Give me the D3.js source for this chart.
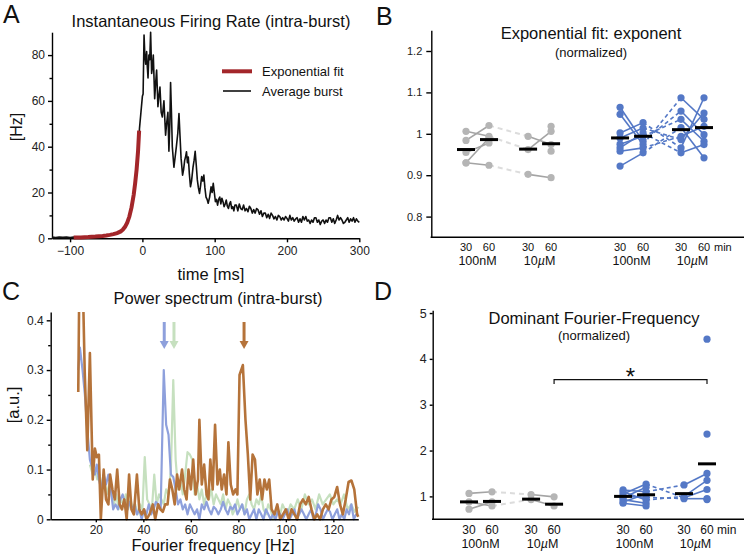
<!DOCTYPE html>
<html>
<head>
<meta charset="utf-8">
<script src="https://cdn.jsdelivr.net/npm/d3@7"></script>
<style>
  body { margin: 0; background: #fff; }
  svg { display: block; font-family: "Liberation Sans", Arial, Helvetica, sans-serif; }
  .axis path, .axis line { stroke: #000; stroke-width: 1.4; }
  .axis text { font-family: "Liberation Sans", Arial, Helvetica, sans-serif; font-size: 12px; fill: #222; }
</style>
</head>
<body>
<svg id="fig" width="744" height="554"></svg>
<script>
// ---- data: panel A (time ms, rate Hz)
var timeTicks = [-100, 0, 100, 200, 300];
var rateTicks = [0, 20, 40, 60, 80];
var avgBurst = [[-125,0.5],[-120,0.3],[-115,0.6],[-110,0.4],[-105,0.5],[-100,0.3],[-95,0.5],[-90,0.4],[-80,0.6],[-70,0.7],
  [-60,0.9],[-50,1.2],[-40,1.8],[-30,3],[-24,5],[-18,9.5],[-12,19],[-8,30],[-5,42],[-4,48],[-2,55],[0,62],[1,63],
  [2.3,88.8],[3.4,80],[4.6,76],[5.9,81.5],[6.8,75],[7.8,70],[9,80],[10.2,78],[11.4,90],[12.8,72],[14,75],[15.1,80],
  [17,61],[18.4,68],[19.7,73.5],[21.5,57.5],[22.8,62],[24.3,66],[26,55],[27.6,53],[29.8,60],[32.1,45],[33.5,50],
  [35.3,55],[36.7,38],[38,50],[39,68],[40.2,55],[41.4,40],[43.6,31],[45.5,36],[47,40],[49,46],[50.6,54.5],[52,45],
  [53.5,35],[55.6,27.6],[57,30],[58.5,34],[60,36],[61,37.8],[62.3,33],[63.5,35.5],[65,28],[66.5,22.5],[68,25],[70,31],
  [71.5,34],[73,38],[74.5,32],[76,25.5],[77.5,22],[79,19.6],[80.5,23],[82,27],[83.5,25],[85,27.6],[86.5,22],[88,18],
  [89.5,17],[91,15.3],[93,18],[95,22.5],[96.5,20],[98,24],[99.5,20],[101,16],[102.5,17],[104,14.5],[105.5,17],[107,18],
  [108.5,15],[110,17.5],[111.5,16],[113,13.8],[114.5,15],[116,16.7],[117.5,14],[119,13],[120.5,15],[122,16],[123.5,13],
  [125,13.8],[126.5,12],[128,14.5],[130,14.5],[132,12],[134,15],[136,13],[138,12.5],[140,14.5],[142,12],[144,13],
  [146,11.6],[148,14],[150,13],[152,11],[154,12.5],[156,11],[158,13],[160,12.4],[162,10.5],[164,12],[166,9.5],[168,11],
  [170,11],[172,9],[174,10.5],[176,8.7],[178,11],[180,10],[182,8.5],[184,9.5],[186,8],[188,10],[190,9.5],[192,8],
  [194,9],[196,8],[198,9.5],[200,8.7],[202,7.5],[204,10],[206,8],[208,9],[210,7.5],[212,8.5],[214,9],[216,7],[218,8.5],
  [220,7],[222,9.5],[224,8],[226,9.5],[228,7.5],[230,8],[232,6.5],[234,8],[236,7],[238,9],[240,9],[242,7],[244,8],
  [246,6],[248,7.5],[250,8],[252,6.5],[254,8],[256,7],[258,9],[260,9],[262,7],[264,8.5],[266,6.5],[268,8],[270,10],
  [272,8],[274,9],[276,8],[278,6.5],[280,7],[282,8],[284,9],[286,7],[288,8.5],[290,7.5],[292,9],[294,7],[296,8.5],
  [298,7.5],[300,7]];
var expFit = [[-95,0.3],[-90,0.35],[-85,0.4],[-80,0.5],[-75,0.55],[-70,0.65],[-65,0.75],[-60,0.9],[-55,1.05],[-50,1.25],
  [-45,1.5],[-40,1.8],[-35,2.3],[-30,3.0],[-27,3.8],[-24,5.0],[-21,6.8],[-18,9.5],[-15,13.5],[-12,19],[-10,24],[-8,30],
  [-6,38],[-4.5,47]];

// ---- data: panel C (frequency Hz, power a.u.)
var freqTicks = [20, 40, 60, 80, 100, 120];
var powerTicks = [0, 0.1, 0.2, 0.3, 0.4];
var specGreen = [[17.5,0.11],[18.7,0.09],[19.6,0.10],[20.6,0.08],[21.6,0.09],[22.6,0.06],[23.6,0.08],[24.6,0.05],[25.6,0.07],
  [26.6,0.05],[27.6,0.03],[28.6,0.05],[29.6,0.02],[30.6,0.04],[31.6,0.03],[32.6,0.05],[33.6,0.02],[34.6,0.04],[35.6,0.02],
  [36.6,0.03],[37.6,0.01],[38.6,0.03],[39.6,0.02],[40.6,0.125],[41.6,0.04],[42.6,0.03],[43.6,0.02],[44.6,0.09],[45.6,0.03],
  [46.6,0.05],[47.6,0.04],[48.6,0.03],[49.6,0.06],[50.6,0.05],[51.6,0.10],[52.6,0.28],[53.6,0.12],[54.6,0.06],[55.6,0.08],
  [56.6,0.05],[57.6,0.09],[58.6,0.135],[59.6,0.13],[60.6,0.12],[61.6,0.05],[62.6,0.07],[63.6,0.04],[64.6,0.06],[65.6,0.03],
  [66.6,0.05],[67.6,0.04],[68.6,0.06],[69.6,0.03],[70.6,0.05],[71.6,0.04],[72.6,0.03],[73.6,0.05],[74.6,0.02],[75.6,0.04],
  [76.6,0.03],[77.6,0.01],[78.6,0.02],[79.6,0.04],[80.6,0.02],[81.6,0.03],[82.6,0.01],[83.6,0.04],[84.6,0.05],[85.6,0.03],
  [86.6,0.02],[87.6,0.04],[88.6,0.03],[89.6,0.05],[90.6,0.02],[91.6,0.01],[92.6,0.03],[93.6,0.02],[94.6,0.0],[95.6,0.01],
  [96.6,0.02],[97.6,0.01],[98.6,0.03],[99.6,0.02],[100.6,0.01],[102,0.03],[103.5,0.02],[105,0.04],[106.5,0.02],[108,0.05],
  [109.5,0.03],[111,0.04],[112.5,0.02],[114,0.05],[115.5,0.03],[117,0.04],[118.5,0.05],[120,0.03],[121.5,0.04],[123,0.03],
  [124.5,0.05],[126,0.02],[127.5,0.03],[129,0.015],[130.5,0.025]];
var specBlue = [[12.6,0.30],[13.3,0.345],[14.4,0.30],[15.4,0.25],[16.4,0.18],[17.5,0.12],[18.7,0.10],[19.6,0.09],[20.4,0.11],
  [21.3,0.08],[22.3,0.06],[23.3,0.09],[24.3,0.07],[25.3,0.09],[26.3,0.06],[27.3,0.02],[28.3,0.03],[29.3,0.02],[30.3,0.04],
  [31.3,0.05],[32.3,0.03],[33.3,0.02],[34.3,0.035],[35.3,0.02],[36.3,0.03],[37.3,0.01],[38.3,0.02],[39.3,0.0],[40.3,0.02],
  [41.3,0.01],[42.3,0.03],[43.3,0.01],[44.3,0.02],[45.3,0.035],[46.3,0.03],[47.3,0.02],[48.6,0.30],[49.6,0.19],[50.6,0.17],
  [51.6,0.09],[52.6,0.085],[53.6,0.06],[54.6,0.03],[55.6,0.04],[56.6,0.02],[57.6,0.03],[58.6,0.01],[59.6,0.03],[60.6,0.02],
  [61.6,0.01],[62.6,0.02],[63.6,0.0],[64.6,0.03],[65.6,0.02],[66.6,0.035],[67.6,0.02],[68.6,0.01],[69.6,0.025],[70.6,0.02],
  [71.6,0.01],[72.6,0.02],[73.6,0.035],[74.6,0.02],[75.6,0.01],[76.6,0.025],[77.6,0.02],[78.6,0.03],[79.6,0.01],[80.6,0.02],
  [81.6,0.03],[82.6,0.01],[83.6,0.02],[84.6,0.0],[85.6,0.01],[86.6,0.02],[87.6,0.0],[88.6,0.02],[89.6,0.01],[90.6,0.0],
  [91.6,0.02],[92.6,0.01],[93.6,0.0],[94.6,0.01],[95.6,0.0],[96.6,0.015],[97.6,0.01],[98.6,0.0],[99.6,0.01],[100.6,0.02],
  [101.6,0.0],[102.6,0.01],[103.6,0.02],[104.6,0.0],[105.6,0.01],[106.6,0.02],[107.6,0.01],[108.6,0.0],[109.6,0.01],
  [110.6,0.02],[111.6,0.0],[112.6,0.01],[113.6,0.03],[114.6,0.02],[115.6,0.0],[116.6,0.01],[117.6,0.02],[118.6,0.015],
  [119.6,0.0],[120.6,0.01],[121.6,0.02],[122.6,0.0],[123.6,0.01],[124.6,0.0],[125.6,0.02],[126.6,0.01],[127.6,0.03],
  [128.6,0.0],[129.6,0.01],[130.5,0.01]];
var specBrown = [[12.6,0.256],[13.2,0.55],[14.2,0.55],[15.3,0.30],[16.4,0.139],[17.5,0.334],[18.7,0.08],[19.6,0.142],
  [20.4,0.125],[21.3,0.13],[22.1,0.0],[23.3,0.10],[24.3,0.04],[25.3,0.03],[26.0,0.09],[27.0,0.06],[28.0,0.04],[29.0,0.10],
  [30.0,0.03],[31.0,0.02],[32.0,0.04],[33.0,0.0],[34.0,0.09],[35.0,0.02],[36.0,0.01],[37.3,0.09],[38.3,0.02],[39.3,0.01],
  [40.3,0.02],[41.3,0.0],[42.6,0.01],[44.0,0.03],[45.0,0.0],[46.2,0.03],[47.2,0.02],[48.2,0.015],[49.2,0.03],[50.2,0.03],
  [51.2,0.08],[52.2,0.06],[53.2,0.03],[54.2,0.09],[55.1,0.06],[56.3,0.10],[57.2,0.06],[58.2,0.04],[59.0,0.10],[60.0,0.06],
  [61.0,0.12],[62.0,0.05],[63.0,0.08],[63.6,0.20],[64.6,0.07],[65.6,0.11],[66.6,0.05],[67.4,0.04],[68.2,0.12],[69.2,0.06],
  [70.2,0.19],[71.2,0.07],[72.2,0.10],[73.0,0.06],[74.0,0.09],[75.0,0.05],[75.8,0.155],[76.8,0.07],[77.8,0.05],[78.8,0.06],
  [79.6,0.05],[80.5,0.29],[81.9,0.31],[83.0,0.20],[84.0,0.13],[85.0,0.04],[86.0,0.13],[87.0,0.12],[88.0,0.05],[89.0,0.08],
  [90.0,0.04],[91.0,0.08],[92.0,0.06],[93.0,0.08],[94.0,0.02],[95.2,0.01],[96.4,0.03],[97.6,0.0],[98.8,0.01],[100,0.02],
  [101.2,0.0],[102.4,0.02],[103.6,0.01],[104.8,0.0],[106.0,0.03],[107.2,0.04],[108.4,0.03],[109.6,0.045],[110.8,0.02],
  [112.0,0.0],[113.2,0.01],[114.4,0.0],[115.6,0.02],[116.8,0.03],[118.0,0.02],[119.2,0.04],[120.4,0.045],[121.6,0.065],
  [122.8,0.03],[124.0,0.01],[125.2,0.04],[126.4,0.075],[127.6,0.078],[128.8,0.06],[130.0,0.01],[130.5,0.005]];
var peakFreqs = [48.8, 52.9, 82.4];   // arrows: blue, green, brown

// ---- data: panels B and D, one row per culture: [100nM 30, 100nM 60, 10uM 30, 10uM 60]
var timeLabels = ["30", "60", "30", "60", "30", "60", "30", "60"];
var doseLabels = ["100nM", "10µM", "100nM", "10µM"];
var expTicks = [0.8, 0.9, 1, 1.1, 1.2];
var expGrey = [[1.006, 0.994, 0.962, 1.006], [0.984, 1.020, 0.994, 0.974], [0.955, 0.978, null, null],
  [0.930, 0.990, null, 1.018], [0.930, 0.924, 0.902, 0.894], [null, null, null, 0.958]];
var expGreyMean = [0.962, 0.986, 0.963, 0.976];
var expBlue = [[1.064, 0.982, 1.055, 0.998], [1.047, 0.974, 1.087, 1.035], [1.002, 1.027, 0.966, 1.087],
  [0.990, 1.014, 0.986, 1.050], [0.975, 0.994, 1.035, 0.982], [0.966, 1.002, 0.954, 0.974],
  [0.958, 0.966, 0.994, 1.018], [0.922, 0.954, 1.015, 0.942]];
var expBlueMean = [0.990, 0.994, 1.010, 1.015];
var freqNormTicks = [1, 2, 3, 4, 5];
var fqGrey = [[1.065, 1.10, 1.04, 0.99], [0.72, 0.88, null, null], [0.88, 0.79, 0.93, 0.79]];
var fqGreyMean = [0.88, 0.89, 0.94, 0.83];
var fqBlue = [[1.14, 1.10, 1.25, 1.50], [1.10, 0.92, 1.00, 1.35], [1.05, 1.27, 0.97, 1.15], [1.00, 0.98, 0.95, 0.95],
  [0.97, 1.20, null, null], [0.93, 0.85, null, null], [0.88, 1.05, null, null], [0.85, 0.79, null, null],
  [null, null, null, 4.43], [null, null, null, 2.36], [null, null, null, 0.93]];
var fqBlueMean = [1.0, 1.035, 1.06, 1.71];

var FONT_T = 16.5;
var svg = d3.select("#fig");

function letter(t, x, y) {
  svg.append("text").attr("x", x).attr("y", y).attr("font-size", 25).attr("fill", "#111").text(t);
}
function label(t, x, y, size, rot) {
  var el = svg.append("text").attr("text-anchor", "middle").attr("font-size", size).attr("fill", "#111").text(t);
  if (rot) el.attr("transform", "translate(" + x + "," + y + ") rotate(-90)");
  else el.attr("x", x).attr("y", y);
  return el;
}

// ================= Panel A =================
var xA = d3.scaleLinear().domain([-125, 300]).range([52, 359.3]);
var yA = d3.scaleLinear().domain([0, 90]).range([238.3, 32.2]);

svg.append("g").attr("class", "axis").attr("transform", "translate(0,238.3)")
  .call(d3.axisBottom(xA).tickValues(timeTicks).tickSize(4).tickSizeOuter(0).tickPadding(4));
svg.append("g").attr("class", "axis").attr("transform", "translate(52,0)")
  .call(d3.axisLeft(yA).tickValues(rateTicks).tickSize(4).tickSizeOuter(0));
svg.append("g").attr("class", "axis").attr("transform", "translate(52,0)")
  .call(d3.axisLeft(yA).tickValues([10, 30, 50, 70]).tickSize(2.5).tickFormat(""))
  .call(function (g) { g.select(".domain").remove(); });

var lineA = d3.line().x(function (d) { return xA(d[0]); }).y(function (d) { return yA(d[1]); });
svg.append("path").datum(avgBurst).attr("d", lineA)
  .attr("fill", "none").attr("stroke", "#111").attr("stroke-width", 1.6).attr("stroke-linejoin", "round");
svg.append("path").datum(expFit).attr("d", lineA)
  .attr("fill", "none").attr("stroke", "#a3262a").attr("stroke-width", 4);

// legend
svg.append("line").attr("x1", 222).attr("x2", 252).attr("y1", 71.3).attr("y2", 71.3)
  .attr("stroke", "#a3262a").attr("stroke-width", 4);
svg.append("line").attr("x1", 223).attr("x2", 251).attr("y1", 91).attr("y2", 91)
  .attr("stroke", "#111").attr("stroke-width", 1.6);
svg.append("text").attr("x", 262).attr("y", 75.5).attr("font-size", 13).attr("fill", "#111").text("Exponential fit");
svg.append("text").attr("x", 262).attr("y", 95.5).attr("font-size", 13).attr("fill", "#111").text("Average burst");

label("Instantaneous Firing Rate (intra-burst)", 211, 27, FONT_T);
label("time [ms]", 211, 280, FONT_T);
label("[Hz]", 22, 127, 16, true);
letter("A", 3, 23);

// ================= Panel C =================
var xC = d3.scaleLinear().domain([1, 130.5]).range([50.7, 358.3]);
var yC = d3.scaleLinear().domain([0, 0.4167]).range([519.3, 312]);

svg.append("clipPath").attr("id", "clipC").append("rect")
  .attr("x", 50.7).attr("y", 312).attr("width", 310).attr("height", 210);

var lineC = d3.line().x(function (d) { return xC(d[0]); }).y(function (d) { return yC(d[1]); });
var gC = svg.append("g").attr("clip-path", "url(#clipC)");
[[specGreen, "#c6e0bf", 2.2], [specBlue, "#8ea0dc", 2.2], [specBrown, "#b5733a", 2.6]].forEach(function (s) {
  gC.append("path").datum(s[0]).attr("d", lineC)
    .attr("fill", "none").attr("stroke", s[1]).attr("stroke-width", s[2]).attr("stroke-linejoin", "round");
});

svg.append("g").attr("class", "axis").attr("transform", "translate(0,519.3)")
  .call(d3.axisBottom(xC).tickValues(freqTicks).tickSize(3).tickSizeOuter(0).tickPadding(3));
svg.append("g").attr("class", "axis").attr("transform", "translate(50.7,0)")
  .call(d3.axisLeft(yC).tickValues(powerTicks).tickSize(4).tickSizeOuter(0)
    .tickFormat(function (d) { return d === 0 ? "0" : d3.format(".1f")(d); }));
svg.append("g").attr("class", "axis").attr("transform", "translate(50.7,0)")
  .call(d3.axisLeft(yC).tickValues([0.05, 0.15, 0.25, 0.35]).tickSize(2.5).tickFormat(""))
  .call(function (g) { g.select(".domain").remove(); });

// peak arrows
var arrowCols = ["#8ea0dc", "#c6e0bf", "#b5733a"];
peakFreqs.forEach(function (f, i) {
  var x = xC(f);
  svg.append("line").attr("x1", x).attr("x2", x).attr("y1", 322).attr("y2", 342)
    .attr("stroke", arrowCols[i]).attr("stroke-width", 3);
  svg.append("path").attr("d", "M" + (x - 4.5) + ",341L" + (x + 4.5) + ",341L" + x + ",349Z")
    .attr("fill", arrowCols[i]);
});

label("Power spectrum (intra-burst)", 218, 304, FONT_T);
label("Fourier frequency [Hz]", 213, 551, FONT_T);
label("[a.u.]", 19, 405, 16.5, true);
letter("C", 2, 300);

// ================= Panels B and D =================
function pairedPanel(o) {
  var x = d3.scaleLinear().domain([0, 10.35]).range(o.xRange);
  var y = d3.scaleLinear().domain(o.yDomain).range(o.yRange);
  var g = svg.append("g");

  g.append("g").attr("class", "axis").attr("transform", "translate(" + o.x0 + ",0)")
    .call(d3.axisLeft(y).tickValues(o.ticks).tickSize(o.tick).tickSizeOuter(0).tickPadding(o.pad)
      .tickFormat(o.fmt))
    .selectAll("text").style("font-size", o.tickFont + "px");
  g.append("line").attr("x1", o.x0 - 0.7).attr("x2", 744).attr("y1", o.yRange[0]).attr("y2", o.yRange[0])
    .attr("stroke", "#000").attr("stroke-width", 1.4);

  o.groups.forEach(function (grp) {
    var sx = grp.slots.map(function (s) { return x(s); });
    // dashed links 60 min (100nM) -> 30 min (10uM)
    grp.rows.forEach(function (r) {
      if (r[1] != null && r[2] != null)
        g.append("line").attr("x1", sx[1]).attr("y1", y(r[1])).attr("x2", sx[2]).attr("y2", y(r[2]))
          .attr("stroke", grp.dashColor).attr("stroke-width", grp.dashWidth).attr("stroke-dasharray", grp.dash);
    });
    grp.rows.forEach(function (r) {
      [[0, 1], [2, 3]].forEach(function (p) {
        if (r[p[0]] != null && r[p[1]] != null)
          g.append("line").attr("x1", sx[p[0]]).attr("y1", y(r[p[0]])).attr("x2", sx[p[1]]).attr("y2", y(r[p[1]]))
            .attr("stroke", grp.lineColor).attr("stroke-width", 1.6);
      });
    });
    grp.rows.forEach(function (r) {
      r.forEach(function (v, k) {
        if (v != null)
          g.append("circle").attr("cx", sx[k]).attr("cy", y(v)).attr("r", 3.6).attr("fill", grp.dotColor);
      });
    });
    grp.means.forEach(function (m, k) {
      g.append("line").attr("x1", sx[k] - 9).attr("x2", sx[k] + 9).attr("y1", y(m)).attr("y2", y(m))
        .attr("stroke", "#000").attr("stroke-width", 3);
    });
  });

  // x labels
  var slots = o.groups[0].slots.concat(o.groups[1].slots);
  slots.forEach(function (s, k) {
    g.append("text").attr("x", x(s)).attr("y", o.numY).attr("text-anchor", "middle")
      .attr("font-size", o.numFont).attr("fill", "#111").text(timeLabels[k]);
  });
  g.append("text").attr("x", x(slots[7]) + 10).attr("y", o.numY).attr("font-size", o.numFont)
    .attr("fill", "#111").text("min");
  doseLabels.forEach(function (t, k) {
    var cx = (x(slots[2 * k]) + x(slots[2 * k + 1])) / 2;
    var el = g.append("text").attr("x", cx).attr("y", o.doseY).attr("text-anchor", "middle")
      .attr("font-size", 12.5).attr("fill", "#111");
    if (t.indexOf("µ") >= 0) {
      el.append("tspan").text("10");
      el.append("tspan").attr("font-style", "italic").text("µ");
      el.append("tspan").text("M");
    } else el.text(t);
  });
  return { x: x, y: y, g: g };
}

var greyStyle = { dotColor: "#b5b5b5", lineColor: "#a4a4a4", dashColor: "#dcdcdc", dashWidth: 2, dash: "5,4" };
var blueStyle = { dotColor: "#5478c6", lineColor: "#5478c6", dashColor: "#5478c6", dashWidth: 1.6, dash: "4,3" };
function grp(style, rows, means, slots) {
  return Object.assign({ rows: rows, means: means, slots: slots }, style);
}

// Panel B
pairedPanel({
  xRange: [466, 704], yDomain: [0.75, 1.25], yRange: [237.3, 30.3], x0: 431.3,
  ticks: expTicks, tick: 5, pad: 4, tickFont: 11, fmt: function (d) { return d === 1 ? "1" : d3.format(".1f")(d); },
  numY: 251, doseY: 265, numFont: 11,
  groups: [grp(greyStyle, expGrey, expGreyMean, [0, 1, 2.7, 3.7]),
           grp(blueStyle, expBlue, expBlueMean, [6.7, 7.7, 9.35, 10.35])]
});
label("Exponential fit: exponent", 591, 39, FONT_T);
label("(normalized)", 591, 57, 13);
letter("B", 376, 25);

// Panel D
var pD = pairedPanel({
  xRange: [469, 707], yDomain: [0.5, 5.06], yRange: [519.3, 310.3], x0: 432.7,
  ticks: freqNormTicks, tick: 3, pad: 3, tickFont: 12.5, fmt: d3.format("d"),
  numY: 534, doseY: 548, numFont: 12,
  groups: [grp(greyStyle, fqGrey, fqGreyMean, [0, 1, 2.7, 3.7]),
           grp(blueStyle, fqBlue, fqBlueMean, [6.7, 7.7, 9.35, 10.35])]
});
// significance bracket: grey 10uM 60 min vs blue 10uM 60 min
var bx1 = pD.x(3.7), bx2 = pD.x(10.35);
svg.append("path").attr("d", "M" + bx1 + ",384V379.7H" + bx2 + "V384")
  .attr("fill", "none").attr("stroke", "#111").attr("stroke-width", 1.2);
label("*", (bx1 + bx2) / 2, 385, 24);
label("Dominant Fourier-Frequency", 594, 324, FONT_T);
label("(normalized)", 594, 340, 13);
letter("D", 374, 300);
</script>
</body>
</html>
